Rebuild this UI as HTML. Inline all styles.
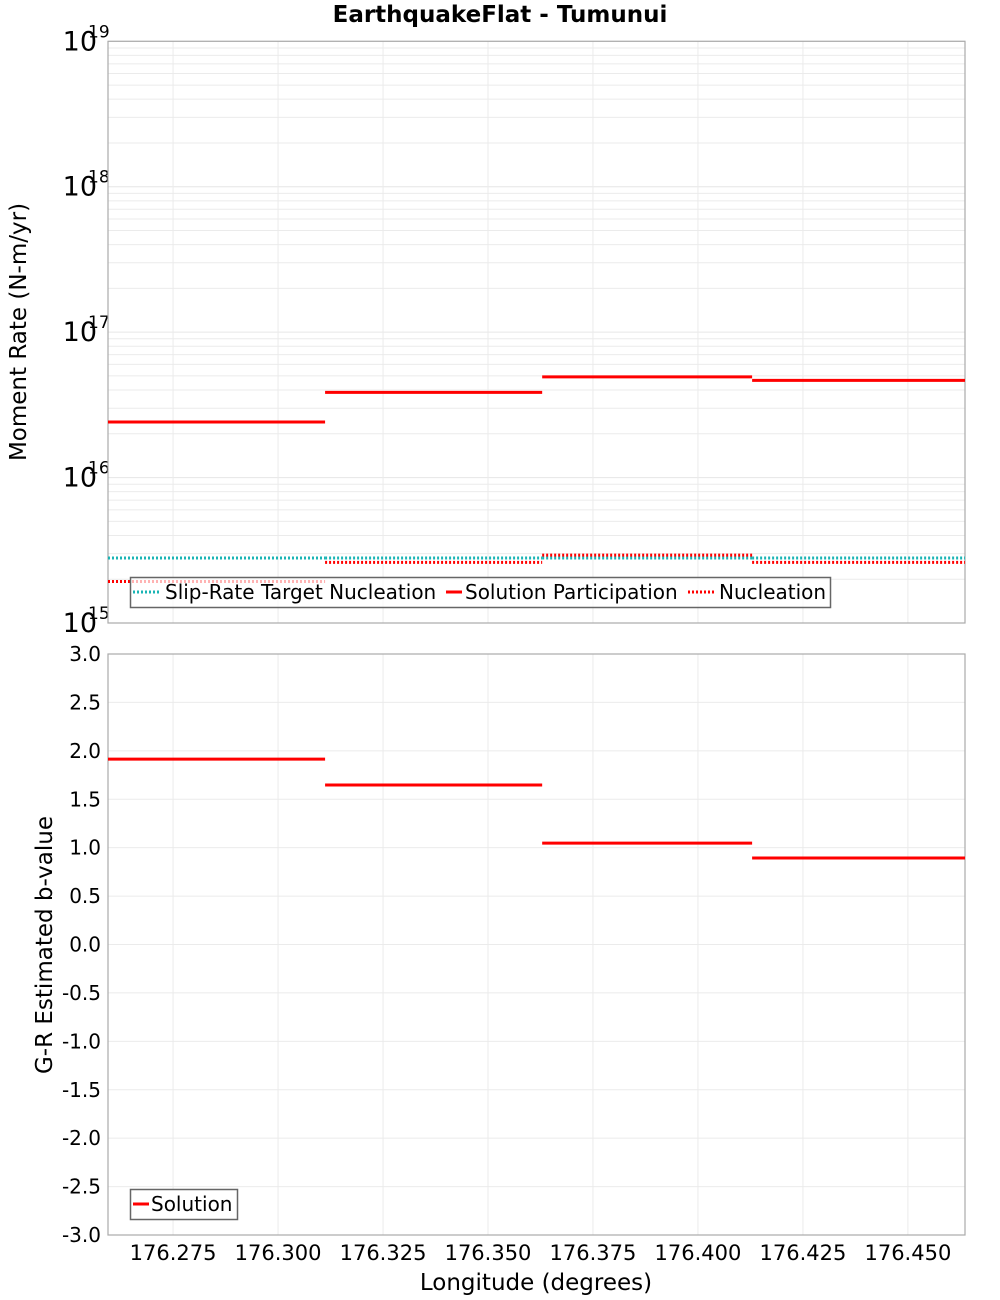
<!DOCTYPE html>
<html><head><meta charset="utf-8"><style>
html,body{margin:0;padding:0;background:#fff;}
svg{display:block;font-family:"DejaVu Sans","Liberation Sans",sans-serif;}
</style></head><body>
<svg id="chart" width="1000" height="1300" xmlns="http://www.w3.org/2000/svg">
<text x="500" y="22" text-anchor="middle" font-size="23" font-weight="bold">EarthquakeFlat - Tumunui</text>
<g id="topG"></g>
<g id="botG"></g>
<text x="536" y="1290" text-anchor="middle" font-size="23">Longitude (degrees)</text>
<text transform="translate(26,332) rotate(-90)" text-anchor="middle" font-size="23">Moment Rate (N-m/yr)</text>
<text transform="translate(52,945) rotate(-90)" text-anchor="middle" font-size="23">G-R Estimated b-value</text>
</svg>
<script>
const segStarts = [176.2595, 176.3112, 176.3629, 176.4129];
const segEnds = [176.3112, 176.3629, 176.4129, 176.4636];
const targetNucleation = [2.8e15, 2.8e15, 2.8e15, 2.8e15];
const participation = [2.41e16, 3.85e16, 4.93e16, 4.66e16];
const nucleation = [1.93e15, 2.61e15, 2.93e15, 2.61e15];
const bValues = [1.915, 1.647, 1.047, 0.893];
const xTicks = [176.275, 176.300, 176.325, 176.350, 176.375, 176.400, 176.425, 176.450];
const xTickLabels = ["176.275","176.300","176.325","176.350","176.375","176.400","176.425","176.450"];
const logTicks = [15, 16, 17, 18, 19];
const bTicks = [3,2.5,2,1.5,1,0.5,0,-0.5,-1,-1.5,-2,-2.5,-3];

const NS = "http://www.w3.org/2000/svg";
const L = 108, R = 965;
const xMin = 176.2595, xMax = 176.4636;
function xs(v){ return L + (v - xMin) / (xMax - xMin) * (R - L); }
const tT = 41.3, tB = 623;
function ysLog(v){ return tB - (Math.log10(v) - 15) / 4 * (tB - tT); }
const bT = 654, bB = 1235;
function ysB(v){ return bB - (v + 3) / 6 * (bB - bT); }

function mk(parent, tag, attrs){
  const e = document.createElementNS(NS, tag);
  for (const k in attrs) e.setAttribute(k, attrs[k]);
  parent.appendChild(e);
  return e;
}
const topG = document.getElementById('topG');
const botG = document.getElementById('botG');

for (let d = 15; d < 19; d++) {
  for (let m = 2; m <= 9; m++) {
    const y = ysLog(m * Math.pow(10, d));
    const g = mk(topG, 'line', {x1:L, x2:R, y1:y, y2:y, stroke:'#ebebeb', 'stroke-width':1});
    
    
  }
}
logTicks.forEach(t => {
  const y = ysLog(Math.pow(10, t));
  const g = mk(topG, 'line', {x1:L, x2:R, y1:y, y2:y, stroke:'#e6e6e6', 'stroke-width':1});
  
  
  const tx = mk(topG, 'text', {x:97, y:y+9, 'text-anchor':'end', 'font-size':27});
  
  
  tx.textContent = '10';
  const sp = mk(topG, 'text', {x:88, y:y-4, 'font-size':17});
  
  
  sp.textContent = String(t);
});
xTicks.forEach((t, i) => {
  const x = xs(t);
  const g1 = mk(topG, 'line', {x1:x, x2:x, y1:tT, y2:tB, stroke:'#ebebeb', 'stroke-width':1});
  
  
  const g2 = mk(botG, 'line', {x1:x, x2:x, y1:bT, y2:bB, stroke:'#ebebeb', 'stroke-width':1});
  
  
  const tx = mk(botG, 'text', {x:x, y:1260, 'text-anchor':'middle', 'font-size':21});
  
  
  tx.textContent = xTickLabels[i];
});
const f1 = mk(topG, 'rect', {x:L, y:tT, width:R-L, height:tB-tT, fill:'none', stroke:'#aaaaaa', 'stroke-width':1.2});



segStarts.forEach((s, i) => {
  const x1 = xs(s), x2 = xs(segEnds[i]);
  let y = ysLog(targetNucleation[i]);
  const a = mk(topG, 'line', {x1:x1, x2:x2, y1:y, y2:y, stroke:'#1ab4b4', 'stroke-width':3, 'stroke-dasharray':'2,2'});
  
  
  y = ysLog(nucleation[i]);
  const b = mk(topG, 'line', {x1:x1, x2:x2, y1:y, y2:y, stroke:'#ff0000', 'stroke-width':3, 'stroke-dasharray':'2,2'});
  
  
  y = ysLog(participation[i]);
  const c = mk(topG, 'line', {x1:x1, x2:x2, y1:y, y2:y, stroke:'#ff0000', 'stroke-width':3});
  
  
});

const lg = mk(topG, 'g', {});


const lr = mk(lg, 'rect', {x:130.5, y:577.5, width:700, height:30, fill:'rgba(255,255,255,0.7)', stroke:'#666', 'stroke-width':1.5});


const items = [
  {x:133, label:'Slip-Rate Target Nucleation', color:'#1ab4b4', dash:'2,2', tx:165},
  {x:446, label:'Solution Participation', color:'#ff0000', dash:'', tx:465},
  {x:688, label:'Nucleation', color:'#ff0000', dash:'2,2', tx:719}
];
items.forEach(it => {
  const ln = mk(lg, 'line', {x1:it.x, x2:it.x + (it.dash ? 28 : 16), y1:592, y2:592, stroke:it.color, 'stroke-width':3});
  if (it.dash) ln.setAttribute('stroke-dasharray', it.dash);
  
  
  const t = mk(lg, 'text', {x:it.tx, y:599, 'font-size':20});
  
  
  t.textContent = it.label;
});

bTicks.forEach(t => {
  const y = ysB(t);
  const g = mk(botG, 'line', {x1:L, x2:R, y1:y, y2:y, stroke:'#ebebeb', 'stroke-width':1});
  
  
  const tx = mk(botG, 'text', {x:101, y:y+7, 'text-anchor':'end', 'font-size':20});
  
  
  tx.textContent = t.toFixed(1);
});
const f2 = mk(botG, 'rect', {x:L, y:bT, width:R-L, height:bB-bT, fill:'none', stroke:'#aaaaaa', 'stroke-width':1.2});


segStarts.forEach((s, i) => {
  const y = ysB(bValues[i]);
  const c = mk(botG, 'line', {x1:xs(s), x2:xs(segEnds[i]), y1:y, y2:y, stroke:'#ff0000', 'stroke-width':3});
  
  
});
const bl = mk(botG, 'g', {});


const br = mk(bl, 'rect', {x:130.5, y:1189.5, width:107, height:30, fill:'#fff', stroke:'#666', 'stroke-width':1.5});


const bs = mk(bl, 'line', {x1:133, x2:149, y1:1204, y2:1204, stroke:'#ff0000', 'stroke-width':3});


const bt = mk(bl, 'text', {x:151, y:1211, 'font-size':20});


bt.textContent = 'Solution';
</script>
</body></html>
